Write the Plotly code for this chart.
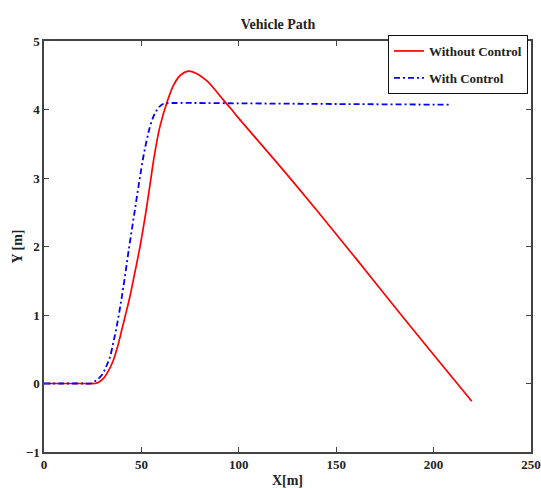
import plotly.graph_objects as go

# Data
x_without = [0, 10, 20, 26, 28, 30.4, 33, 35.6, 38, 39.9, 42, 44.1, 46.5, 49.3, 52, 54.4, 56.5, 59.5, 63.3, 66.4, 70, 74, 78, 83.5, 88, 92, 96, 100, 120, 140, 160, 180, 200, 219.6]
y_without = [0, 0, 0, 0, 0.02, 0.07, 0.18, 0.34, 0.56, 0.78, 1.02, 1.27, 1.6, 2.0, 2.45, 2.9, 3.3, 3.75, 4.12, 4.35, 4.5, 4.56, 4.53, 4.42, 4.28, 4.14, 4.01, 3.87, 3.21, 2.53, 1.83, 1.12, 0.42, -0.26]

x_with = [0, 10, 20, 24, 25.3, 27.5, 29.6, 31.8, 33.9, 35.6, 37.3, 39, 40.7, 43.5, 46.2, 48.9, 51, 52.8, 54.4, 56.2, 57.9, 60.4, 63, 70, 100, 150, 208.4]
y_with = [0, 0, 0, 0, 0.02, 0.06, 0.12, 0.24, 0.39, 0.6, 0.83, 1.1, 1.4, 1.95, 2.45, 2.95, 3.31, 3.56, 3.75, 3.9, 3.99, 4.07, 4.09, 4.095, 4.09, 4.08, 4.07]

x_ticks = [0, 50, 100, 150, 200, 250]
y_ticks = [-1, 0, 1, 2, 3, 4, 5]

FONT = "Liberation Serif"

fig = go.Figure()
fig.add_trace(go.Scatter(x=x_without, y=y_without, mode="lines", name="Without Control", legendgroup="a",
                         line=dict(color="#ff0000", width=1.7, shape="spline", smoothing=1.0)))
fig.add_trace(go.Scatter(x=x_with, y=y_with, mode="lines", name="With Control", legendgroup="b",
                         line=dict(color="#0000ff", width=1.8, dash="6px,3px,2px,3px", shape="spline", smoothing=1.0)))

axis_common = dict(showline=True, linecolor="#444", linewidth=1.5, mirror="ticks",
                   ticks="inside", ticklen=5, tickcolor="#444", showgrid=False, zeroline=False,
                   automargin=False,
                   tickfont=dict(family=FONT, size=13, color="#222", weight="bold"))

fig.update_layout(
    width=541, height=488,
    margin=dict(l=44, r=10, t=41, b=36),
    paper_bgcolor="white", plot_bgcolor="white",
    title=dict(text="Vehicle Path", x=278/541, xanchor="center", y=1 - 24/488, yanchor="middle",
               font=dict(family=FONT, size=14, color="#222", weight="bold")),
    xaxis=dict(range=[0, 250], tickvals=x_ticks, **axis_common,
               title=dict(text="X[m]", standoff=12, font=dict(family=FONT, size=14, color="#222", weight="bold"))),
    yaxis=dict(range=[-1, 5], tickvals=y_ticks, **axis_common,
               title=dict(text="Y [m]", standoff=0, font=dict(family=FONT, size=14, color="#222", weight="bold"))),
    legend=dict(x=0.9938, y=1.0146, xanchor="right", yanchor="top",
                bgcolor="white", bordercolor="#111", borderwidth=1,
                font=dict(family=FONT, size=13, color="#222", weight="bold"),
                itemwidth=30, tracegroupgap=7),
    showlegend=True,
)

fig.write_html("out.html")
